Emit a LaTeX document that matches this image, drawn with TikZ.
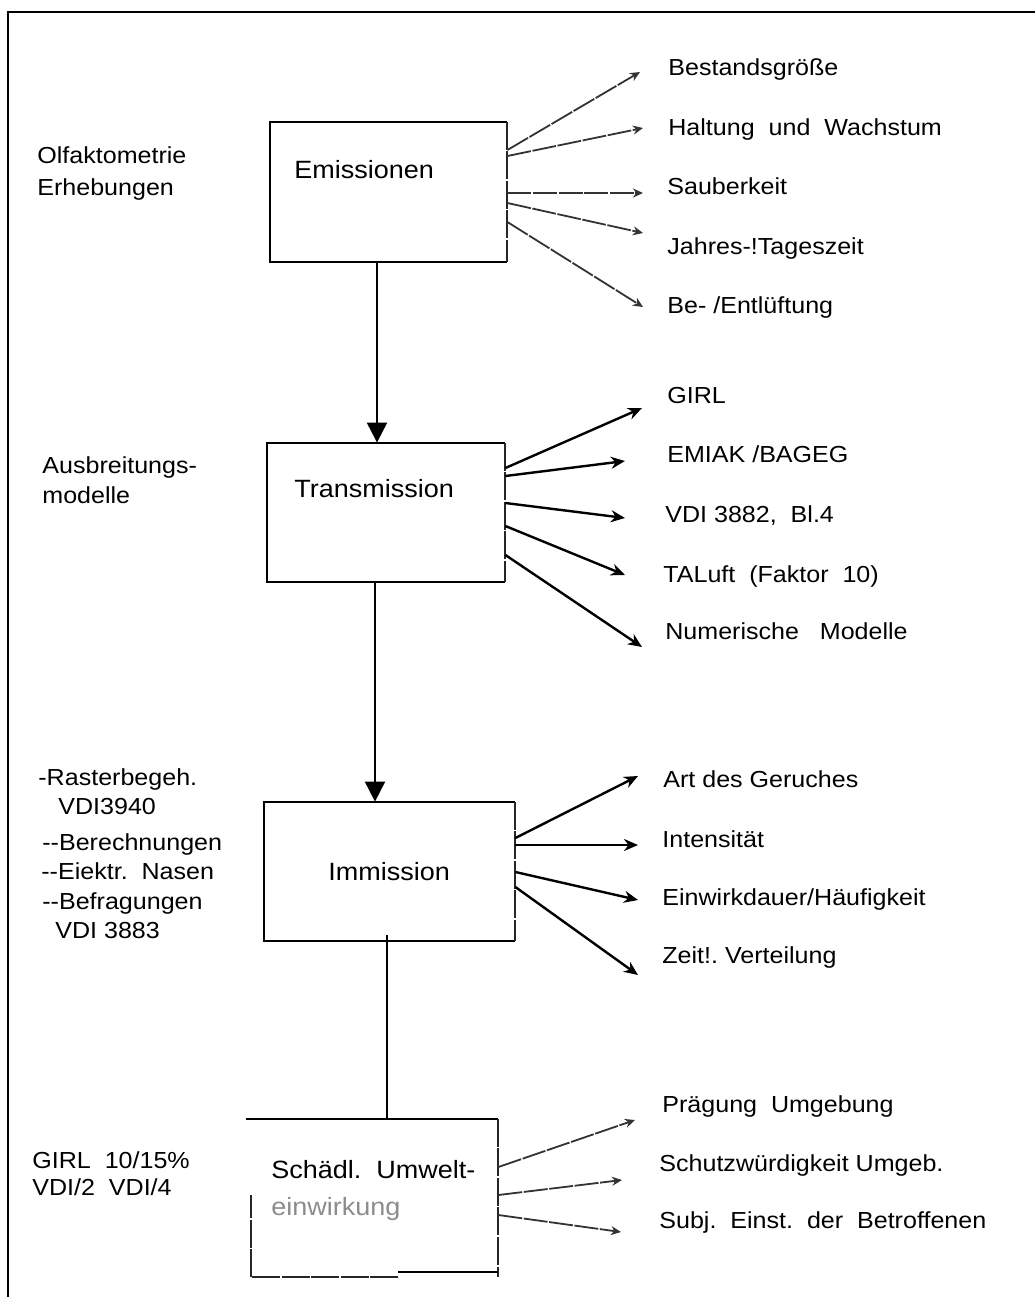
\documentclass[tikz,border=0pt]{standalone}
\usepackage{fontspec}
\setmainfont{Liberation Sans}[FakeStretch=1.08]
\usetikzlibrary{arrows.meta}
\newcommand\fsN{\fontsize{11.6}{14}\selectfont}
\newcommand\fsB{\fontsize{12.5}{15}\selectfont}
\tikzset{
  txt/.style={anchor=base west, inner sep=0pt, font=\fsN},
  boxtxt/.style={anchor=base west, inner sep=0pt, font=\fsB},
  boxarea/.style={draw=none, inner sep=0pt},
  edge/.style={line width=1pt, black},
  rough/.style={line width=1pt, black!85, dash pattern=on 14pt off 0.8pt},
  downarrow/.style={line width=1pt, -{Triangle[length=10pt,width=10pt]}},
  thinarrow/.style={line width=0.9pt, black!80, dash pattern=on 12pt off 0.8pt, -{Stealth[length=5pt,width=4.5pt]}},
  boldarrow/.style={line width=1.2pt, -{Stealth[length=7pt,width=6pt]}},
}
\begin{document}
\begin{tikzpicture}[x=0.5pt,y=-0.5pt]
\useasboundingbox (0,0) rectangle (1035,1297);
% frame
\draw[line width=1pt] (8,1297) -- (8,12) -- (1035,12);

% ---------- boxes ----------
\node[boxarea, minimum width=118.5pt, minimum height=70pt] (emi) at (388.5,192) {};
\node[boxarea, minimum width=119pt, minimum height=69.5pt] (tra) at (386,512.5) {};
\node[boxarea, minimum width=125.5pt, minimum height=69.5pt] (imm) at (389.5,871.5) {};
\node[boxarea, minimum width=123.5pt, minimum height=79pt] (sch) at (374.5,1198) {};

\draw[edge] (emi.north east) -- (emi.north west) -- (emi.south west) -- (emi.south east);
\draw[rough] (emi.north east) -- (emi.south east);
\draw[edge] (tra.north east) -- (tra.north west) -- (tra.south west) -- (tra.south east);
\draw[rough] (tra.north east) -- (tra.south east);
\draw[edge] (imm.north east) -- (imm.north west) -- (imm.south west) -- (imm.south east);
\draw[rough] (imm.north east) -- (imm.south east);
\draw[edge] ([xshift=-2.5pt]sch.north west) -- (sch.north east);
\draw[rough] (sch.north east) -- (sch.south east);
\draw[edge] ([yshift=2.5pt]sch.south east) -- ([yshift=2.5pt,xshift=-50pt]sch.south east);
\draw[rough] ([xshift=-50pt]sch.south east) -- (sch.south west) -- ([yshift=41pt]sch.south west);

% box texts
\node[boxtxt] (emiT) at (294,178) {Emissionen};
\node[boxtxt] (traT) at (294,497) {Transmission};
\node[boxtxt] (immT) at (328,880) {Immission};
\node[boxtxt] (schT) at (271,1178) {Schädl.\ \ Umwelt-};
\node[boxtxt, text=black!45] (schT2) at (271,1215) {einwirkung};

% vertical connectors
\draw[downarrow] (377,0 |- emi.south) -- (377,0 |- tra.north);
\draw[downarrow] (375,0 |- tra.south) -- (375,0 |- imm.north);
\draw[edge] (387,935) -- (387,0 |- sch.north);

% ---------- left labels ----------
\node[txt] (l1a) at (37,163) {Olfaktometrie};
\node[txt] (l1b) at (37,195) {Erhebungen};
\node[txt] (l2a) at (42,473) {Ausbreitungs-};
\node[txt] (l2b) at (42,503) {modelle};
\node[txt] (l3a) at (38,785) {-Rasterbegeh.};
\node[txt] (l3b) at (58,814) {VDI3940};
\node[txt] (l3c) at (42,850) {-{}-Berechnungen};
\node[txt] (l3d) at (41,879) {-{}-Eiektr.\ \ Nasen};
\node[txt] (l3e) at (42,909) {-{}-Befragungen};
\node[txt] (l3f) at (55,938) {VDI 3883};
\node[txt] (l4a) at (32,1168) {GIRL\ \ 10/15\%};
\node[txt] (l4b) at (32,1195) {VDI/2\ \ VDI/4};

% ---------- right labels: Emissionen ----------
\node[txt] (e1) at (668,75) {Bestandsgröße};
\node[txt] (e2) at (668,135) {Haltung\ \ und\ \ Wachstum};
\node[txt] (e3) at (667,194) {Sauberkeit};
\node[txt] (e4) at (667,254) {Jahres-!Tageszeit};
\node[txt] (e5) at (667,313) {Be-\ /Entlüftung};
\coordinate (e1x) at (640,72);
\coordinate (e2x) at (643,128);
\coordinate (e3x) at (643,193);
\coordinate (e4x) at (643,233);
\coordinate (e5x) at (643,307);
\draw[thinarrow] (emi.east |- 0,150) -- (e1x);
\draw[thinarrow] (emi.east |- 0,156) -- (e2x);
\draw[thinarrow] (emi.east |- 0,193) -- (e3x);
\draw[thinarrow] (emi.east |- 0,203) -- (e4x);
\draw[thinarrow] (emi.east |- 0,222) -- (e5x);

% ---------- right labels: Transmission ----------
\node[txt] (t1) at (667,403) {GIRL};
\node[txt] (t2) at (667,462) {EMIAK\ /BAGEG};
\node[txt] (t3) at (665,522) {VDI 3882,\ \ Bl.4};
\node[txt] (t4) at (663,582) {TALuft\ \ (Faktor\ \ 10)};
\node[txt] (t5) at (665,639) {Numerische\ \ \ Modelle};
\coordinate (t1x) at (642,408);
\coordinate (t2x) at (625,461);
\coordinate (t3x) at (625,518);
\coordinate (t4x) at (625,575);
\coordinate (t5x) at (642,647);
\draw[boldarrow] (tra.east |- 0,468) -- (t1x);
\draw[boldarrow] (tra.east |- 0,476) -- (t2x);
\draw[boldarrow] (tra.east |- 0,503) -- (t3x);
\draw[boldarrow] (tra.east |- 0,526) -- (t4x);
\draw[boldarrow] (tra.east |- 0,555) -- (t5x);

% ---------- right labels: Immission ----------
\node[txt] (i1) at (663,787) {Art des Geruches};
\node[txt] (i2) at (662,847) {Intensität};
\node[txt] (i3) at (662,905) {Einwirkdauer/Häufigkeit};
\node[txt] (i4) at (662,963) {Zeit!.\ Verteilung};
\coordinate (i1x) at (638,776);
\coordinate (i2x) at (638,845);
\coordinate (i3x) at (638,900);
\coordinate (i4x) at (638,975);
\draw[boldarrow] (imm.east |- 0,838) -- (i1x);
\draw[boldarrow] (imm.east |- 0,845) -- (i2x);
\draw[boldarrow] (imm.east |- 0,872) -- (i3x);
\draw[boldarrow] (imm.east |- 0,887) -- (i4x);

% ---------- right labels: Schaedl. ----------
\node[txt] (s1) at (662,1112) {Prägung\ \ Umgebung};
\node[txt] (s2) at (659,1171) {Schutzwürdigkeit Umgeb.};
\node[txt] (s3) at (659,1228) {Subj.\ \ Einst.\ \ der\ \ Betroffenen};
\coordinate (s1x) at (635,1120);
\coordinate (s2x) at (622,1180);
\coordinate (s3x) at (621,1232);
\draw[thinarrow] (sch.east |- 0,1167) -- (s1x);
\draw[thinarrow] (sch.east |- 0,1195) -- (s2x);
\draw[thinarrow] (sch.east |- 0,1215) -- (s3x);
\end{tikzpicture}
\end{document}
